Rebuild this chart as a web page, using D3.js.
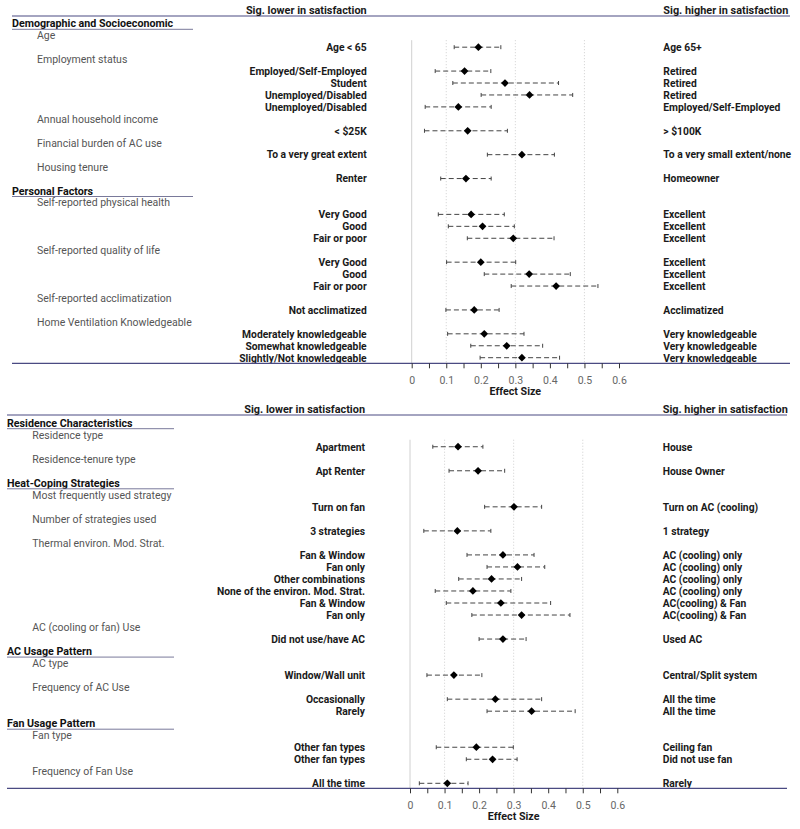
<!DOCTYPE html>
<html>
<head>
<meta charset="utf-8">
<script src="https://cdn.jsdelivr.net/npm/d3@7"></script>
<style>
  html, body { margin: 0; padding: 0; background: #fff; }
  svg { display: block; }
  text { font-family: Roboto, "Liberation Sans", sans-serif; }
</style>
</head>
<body>
<svg id="chart" width="800" height="829"></svg>
<script>
// ---------------- DATA ----------------
const headerLower = "Sig. lower in satisfaction";
const headerHigher = "Sig. higher in satisfaction";
const axisTitle = "Effect Size";
const tickValues = [0, 0.05, 0.1, 0.15, 0.2, 0.25, 0.3, 0.35, 0.4, 0.45, 0.5, 0.55, 0.6];
const tickLabels = ["0", "", "0.1", "", "0.2", "", "0.3", "", "0.4", "", "0.5", "", "0.6"];
const gridSolid = [0];
const gridDotted = [0.1, 0.3, 0.5];

// Top panel
const topSections = ["Demographic and Socioeconomic", "Personal Factors"];
const topFactors = ["Age", "Employment status", "Annual household income", "Financial burden of AC use",
  "Housing tenure", "Self-reported physical health", "Self-reported quality of life",
  "Self-reported acclimatization", "Home Ventilation Knowledgeable"];
const topFactorSection = [0, 0, 0, 0, 0, 1, 1, 1, 1];
const topFactorCount = [1, 4, 1, 1, 1, 3, 3, 1, 3];
const topLower = ["Age < 65", "Employed/Self-Employed", "Student", "Unemployed/Disabled", "Unemployed/Disabled",
  "< $25K", "To a very great extent", "Renter",
  "Very Good", "Good", "Fair or poor", "Very Good", "Good", "Fair or poor",
  "Not acclimatized", "Moderately knowledgeable", "Somewhat knowledgeable", "Slightly/Not knowledgeable"];
const topHigher = ["Age 65+", "Retired", "Retired", "Retired", "Employed/Self-Employed",
  "> $100K", "To a very small extent/none", "Homeowner",
  "Excellent", "Excellent", "Excellent", "Excellent", "Excellent", "Excellent",
  "Acclimatized", "Very knowledgeable", "Very knowledgeable", "Very knowledgeable"];
const topEst = [0.193, 0.153, 0.270, 0.341, 0.135, 0.162, 0.319, 0.157,
  0.172, 0.205, 0.294, 0.200, 0.340, 0.418, 0.181, 0.210, 0.275, 0.319];
const topLo = [0.123, 0.068, 0.119, 0.201, 0.039, 0.037, 0.219, 0.084,
  0.077, 0.106, 0.161, 0.101, 0.210, 0.288, 0.099, 0.104, 0.171, 0.198];
const topHi = [0.258, 0.229, 0.425, 0.466, 0.230, 0.277, 0.413, 0.230,
  0.268, 0.297, 0.412, 0.301, 0.459, 0.539, 0.253, 0.325, 0.379, 0.428];

// Bottom panel
const botSections = ["Residence Characteristics", "Heat-Coping Strategies", "AC Usage Pattern", "Fan Usage Pattern"];
const botFactors = ["Residence type", "Residence-tenure type", "Most frequently used strategy",
  "Number of strategies used", "Thermal environ. Mod. Strat.", "AC (cooling or fan) Use",
  "AC type", "Frequency of AC Use", "Fan type", "Frequency of Fan Use"];
const botFactorSection = [0, 0, 1, 1, 1, 1, 2, 2, 3, 3];
const botFactorCount = [1, 1, 1, 1, 6, 1, 1, 2, 2, 1];
const botLower = ["Apartment", "Apt Renter", "Turn on fan", "3 strategies",
  "Fan & Window", "Fan only", "Other combinations", "None of the environ. Mod. Strat.", "Fan & Window", "Fan only",
  "Did not use/have AC", "Window/Wall unit", "Occasionally", "Rarely",
  "Other fan types", "Other fan types", "All the time"];
const botHigher = ["House", "House Owner", "Turn on AC (cooling)", "1 strategy",
  "AC (cooling) only", "AC (cooling) only", "AC (cooling) only", "AC (cooling) only", "AC(cooling) & Fan", "AC(cooling) & Fan",
  "Used AC", "Central/Split system", "All the time", "All the time",
  "Ceiling fan", "Did not use fan", "Rarely"];
const botEst = [0.139, 0.197, 0.301, 0.137, 0.269, 0.311, 0.236, 0.182, 0.263, 0.323,
  0.269, 0.127, 0.247, 0.352, 0.192, 0.239, 0.108];
const botLo = [0.066, 0.113, 0.216, 0.040, 0.165, 0.223, 0.141, 0.073, 0.105, 0.179,
  0.200, 0.049, 0.108, 0.223, 0.076, 0.163, 0.027];
const botHi = [0.211, 0.274, 0.381, 0.234, 0.359, 0.390, 0.323, 0.292, 0.407, 0.463,
  0.336, 0.208, 0.381, 0.478, 0.299, 0.310, 0.168];

// ---------------- DRAW ----------------
const svg = d3.select("#chart");
const NAVY = "#4a4a82";

function buildLines(sections, factors, factorSection, factorCount, lower, higher, est, lo, hi) {
  const lines = [];
  let cur = -1, r = 0;
  factors.forEach((f, i) => {
    if (factorSection[i] !== cur) {
      cur = factorSection[i];
      lines.push({ type: "section", text: sections[cur] });
    }
    lines.push({ type: "factor", text: f });
    for (let k = 0; k < factorCount[i]; k++) {
      lines.push({ type: "row", lower: lower[r], higher: higher[r], est: est[r], lo: lo[r], hi: hi[r] });
      r++;
    }
  });
  return lines;
}

function drawPanel(cfg, data) {
  const lines = buildLines(...data);
  const g = svg.append("g");
  const y = d3.scaleLinear().domain([0, lines.length - 1]).range([cfg.yFirst, cfg.yLast]);
  const x = d3.scaleLinear().domain([0, 0.6]).range([cfg.x0, cfg.x6]);
  lines.forEach((d, i) => d.y = y(i));
  const rows = lines.filter(d => d.type === "row");
  const firstRowY = rows[0].y;

  // header
  g.append("line").attr("x1", cfg.left).attr("x2", cfg.right)
    .attr("y1", cfg.headerLineY).attr("y2", cfg.headerLineY)
    .attr("stroke", NAVY).attr("stroke-width", 1.2);
  g.append("text").attr("x", cfg.lowerX).attr("y", cfg.headerLineY - 2)
    .attr("text-anchor", "end").attr("font-weight", "bold").attr("font-size", 10.9)
    .attr("fill", "#1a1a1a").text(headerLower);
  g.append("text").attr("x", cfg.higherX).attr("y", cfg.headerLineY - 2)
    .attr("font-weight", "bold").attr("font-size", 10.9)
    .attr("fill", "#1a1a1a").text(headerHigher);

  // grid
  g.selectAll(".gs").data(gridSolid).join("line")
    .attr("x1", d => x(d)).attr("x2", d => x(d))
    .attr("y1", firstRowY - 7).attr("y2", cfg.axisY)
    .attr("stroke", "#d0d0d0").attr("stroke-width", 1);
  g.selectAll(".gd").data(gridDotted).join("line")
    .attr("x1", d => x(d)).attr("x2", d => x(d))
    .attr("y1", firstRowY - 7).attr("y2", cfg.axisY)
    .attr("stroke", "#c4c4c4").attr("stroke-width", 0.8).attr("stroke-dasharray", "1,2");

  // section headers
  const sec = lines.filter(d => d.type === "section");
  g.selectAll(".sec").data(sec).join("text")
    .attr("x", cfg.left).attr("y", d => d.y + 4)
    .attr("font-weight", "bold").attr("font-size", 10.7).attr("fill", "#111")
    .text(d => d.text);
  g.selectAll(".secl").data(sec).join("line")
    .attr("x1", cfg.left).attr("x2", cfg.secLineEnd)
    .attr("y1", d => d.y + 6).attr("y2", d => d.y + 6)
    .attr("stroke", "#6a6a8e").attr("stroke-width", 0.9);

  // factor labels
  g.selectAll(".fac").data(lines.filter(d => d.type === "factor")).join("text")
    .attr("x", cfg.factorX).attr("y", d => d.y + 4)
    .attr("font-size", 10.5).attr("fill", "#555")
    .text(d => d.text);

  // row labels
  g.selectAll(".low").data(rows).join("text")
    .attr("x", cfg.lowerX).attr("y", d => d.y + 3.8)
    .attr("text-anchor", "end").attr("font-weight", "bold").attr("font-size", 10.3)
    .attr("fill", "#1a1a1a").text(d => d.lower);
  g.selectAll(".high").data(rows).join("text")
    .attr("x", cfg.higherX).attr("y", d => d.y + 3.8)
    .attr("font-weight", "bold").attr("font-size", 10.3)
    .attr("fill", "#1a1a1a").text(d => d.higher);

  // error bars
  g.selectAll(".eb").data(rows).join("line")
    .attr("x1", d => x(d.lo)).attr("x2", d => x(d.hi))
    .attr("y1", d => d.y).attr("y2", d => d.y)
    .attr("stroke", "#444").attr("stroke-width", 1).attr("stroke-dasharray", "5,3");
  g.selectAll(".cl").data(rows).join("line")
    .attr("x1", d => x(d.lo)).attr("x2", d => x(d.lo))
    .attr("y1", d => d.y - 2).attr("y2", d => d.y + 2)
    .attr("stroke", "#444").attr("stroke-width", 1);
  g.selectAll(".ch").data(rows).join("line")
    .attr("x1", d => x(d.hi)).attr("x2", d => x(d.hi))
    .attr("y1", d => d.y - 2).attr("y2", d => d.y + 2)
    .attr("stroke", "#444").attr("stroke-width", 1);
  const sym = d3.symbol().type(d3.symbolSquare).size(30);
  g.selectAll(".pt").data(rows).join("path")
    .attr("d", sym)
    .attr("transform", d => `translate(${x(d.est)},${d.y}) rotate(45)`)
    .attr("fill", "#000");

  // axis
  g.append("line").attr("x1", cfg.left).attr("x2", cfg.right)
    .attr("y1", cfg.axisY).attr("y2", cfg.axisY)
    .attr("stroke", NAVY).attr("stroke-width", 1.2);
  const axis = d3.axisBottom(x).tickValues(tickValues)
    .tickFormat((d, i) => tickLabels[i]).tickSize(5).tickPadding(8);
  const ag = g.append("g").attr("transform", `translate(0,${cfg.axisY})`).call(axis);
  ag.select(".domain").remove();
  ag.selectAll(".tick line").attr("stroke", "#333").attr("stroke-width", 1);
  ag.selectAll(".tick text").attr("font-size", 10.5).attr("fill", "#666")
    .attr("font-family", "Roboto, sans-serif");
  g.append("text").attr("x", x(0.3)).attr("y", cfg.axisY + 32)
    .attr("text-anchor", "middle").attr("font-weight", "bold").attr("font-size", 10.7)
    .attr("fill", "#1a1a1a").text(axisTitle);
}

drawPanel(
  { yFirst: 23.3, yLast: 357.7, x0: 411.7, x6: 619, left: 12, right: 790, headerLineY: 16,
    axisY: 363.3, lowerX: 366.7, higherX: 663.3, factorX: 37, secLineEnd: 193 },
  [topSections, topFactors, topFactorSection, topFactorCount, topLower, topHigher, topEst, topLo, topHi]
);
drawPanel(
  { yFirst: 422.7, yLast: 783.3, x0: 410, x6: 617.3, left: 7, right: 787, headerLineY: 415,
    axisY: 788.3, lowerX: 365, higherX: 662.7, factorX: 32.3, secLineEnd: 174 },
  [botSections, botFactors, botFactorSection, botFactorCount, botLower, botHigher, botEst, botLo, botHi]
);
</script>
</body>
</html>
